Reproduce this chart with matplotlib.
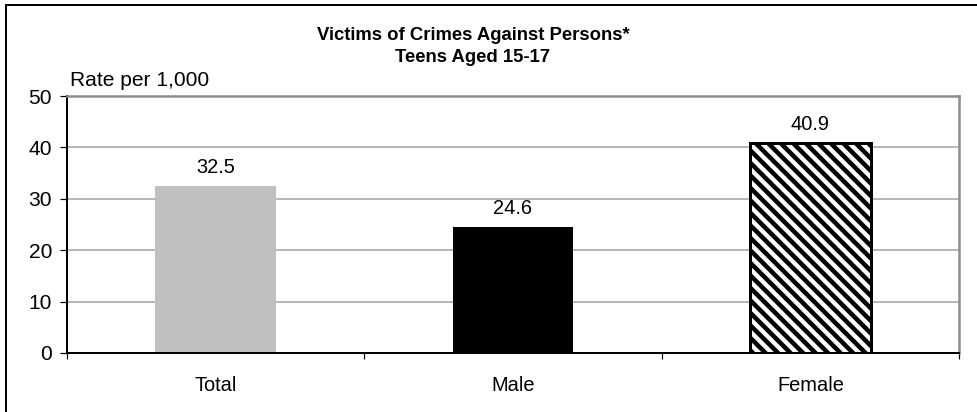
import matplotlib
matplotlib.use("Agg")
import matplotlib.pyplot as plt
from matplotlib.patches import Rectangle

# working at 150 dpi so the hatch spacing matches the original
DPI = 150
W, H = 978, 412


def pt(pixels):
    # pixel size -> points at this dpi
    return pixels * 72 / DPI


# --- data ---
categories = ["Total", "Male", "Female"]
rates = [32.5, 24.6, 40.9]
value_labels = ["32.5", "24.6", "40.9"]
yticks = [0, 10, 20, 30, 40, 50]

plt.rcParams["font.family"] = ["Liberation Sans", "DejaVu Sans"]
plt.rcParams["hatch.linewidth"] = pt(4.5)

fig = plt.figure(figsize=(W / DPI, H / DPI), dpi=DPI)

# outer frame (only left and top edges show in the picture)
fig.patches.append(Rectangle((6 / W, -0.1), 1.1, 1 - 5 / H + 0.1,
                             transform=fig.transFigure, fill=False,
                             edgecolor="black", linewidth=pt(2)))

left, right, top, bottom = 67, 959, 96, 353
ax = fig.add_axes([left / W, 1 - bottom / H, (right - left) / W, (bottom - top) / H])

x = list(range(len(categories)))
bars = ax.bar(x, rates, width=0.405, color=["#c0c0c0", "black", "white"],
              edgecolor=["#c0c0c0", "black", "black"], linewidth=[0, 0, pt(3)])
bars[2].set_hatch("\\\\\\\\")

for xi, v, lab in zip(x, rates, value_labels):
    ax.annotate(lab, (xi, v), xytext=(0, pt(9)), textcoords="offset points",
                ha="center", va="bottom", fontsize=pt(20))

ax.set_xlim(-0.5, len(categories) - 0.5)
ax.set_ylim(0, 50)
ax.set_yticks(yticks)
ax.tick_params(axis="y", direction="out", length=pt(7), width=pt(1.2),
               labelsize=pt(21), pad=pt(8))
ax.yaxis.grid(True, color="#a0a0a0", linewidth=pt(1.5))
ax.set_axisbelow(True)

# boundary ticks between categories, labels on the centres
ax.set_xticks([i - 0.5 for i in range(len(categories) + 1)])
ax.set_xticklabels([])
ax.set_xticks(x, minor=True)
ax.set_xticklabels(categories, minor=True)
ax.tick_params(axis="x", which="major", direction="out", length=pt(6), width=pt(1.2))
ax.tick_params(axis="x", which="minor", length=0, labelsize=pt(20), pad=pt(23))

for s in ["left", "bottom"]:
    ax.spines[s].set_color("black")
    ax.spines[s].set_linewidth(pt(2))
for s in ["top", "right"]:
    ax.spines[s].set_color("#8c8c8c")
    ax.spines[s].set_linewidth(pt(2.5))

fig.text(473 / W, 1 - 35 / H, "Victims of Crimes Against Persons*", ha="center",
         va="center", fontsize=pt(18.5), fontweight="bold")
fig.text(473 / W, 1 - 57 / H, "Teens Aged 15-17", ha="center", va="center",
         fontsize=pt(18.5), fontweight="bold")
fig.text(70 / W, 1 - 81 / H, "Rate per 1,000", ha="left", va="center", fontsize=pt(21))

fig.savefig("out.png", dpi=DPI)
